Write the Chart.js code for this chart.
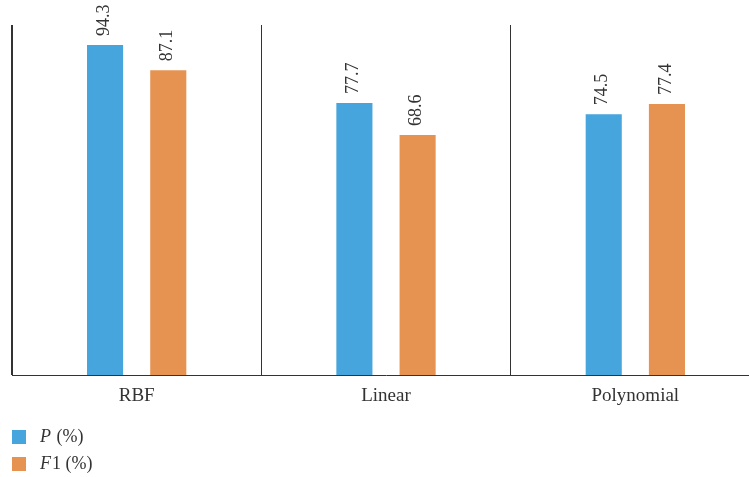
<!DOCTYPE html>
<html>
<head>
<meta charset="utf-8">
<script src="https://cdn.jsdelivr.net/npm/chart.js@4"></script>
<style>
  html, body { margin: 0; padding: 0; background: #fff; overflow: hidden; }
  #wrap { position: relative; width: 760px; height: 477px; }
</style>
</head>
<body>
<div id="wrap"><canvas id="myChart"></canvas></div>
<script>
const categories = ['RBF', 'Linear', 'Polynomial'];
const seriesNames = ['P (%)', 'F1 (%)'];
const pValues = [94.3, 77.7, 74.5];
const f1Values = [87.1, 68.6, 77.4];
const seriesColors = ['#45a5dc', '#e69352'];

const serif = '"Liberation Serif", "Times New Roman", serif';
const ink = '#333333';

// value labels, rotated, above each bar
const valueLabels = {
  id: 'valueLabels',
  afterDatasetsDraw(chart) {
    const ctx = chart.ctx;
    ctx.save();
    ctx.fillStyle = ink;
    ctx.font = '18px ' + serif;
    ctx.textAlign = 'left';
    ctx.textBaseline = 'middle';
    chart.data.datasets.forEach((ds, i) => {
      chart.getDatasetMeta(i).data.forEach((bar, j) => {
        ctx.save();
        ctx.translate(bar.x - 1, bar.y - 9);
        ctx.rotate(-Math.PI / 2);
        ctx.fillText(ds.data[j].toFixed(1), 0, 0);
        ctx.restore();
      });
    });
    ctx.restore();
  }
};

// legend below the axis, first letter of each name in italics
const stackedLegend = {
  id: 'stackedLegend',
  afterDraw(chart) {
    const ctx = chart.ctx;
    ctx.save();
    ctx.textBaseline = 'middle';
    chart.data.datasets.forEach((ds, i) => {
      const y = 437 + i * 27;
      ctx.fillStyle = ds.backgroundColor;
      ctx.fillRect(12, y - 7, 14, 14);
      ctx.fillStyle = ink;
      const name = ds.label;
      ctx.font = 'italic 18px ' + serif;
      ctx.fillText(name[0], 40, y);
      const w = ctx.measureText(name[0]).width;
      ctx.font = '18px ' + serif;
      ctx.fillText(name.slice(1), 40 + w + 1, y);
    });
    ctx.restore();
  }
};

const ctx = document.getElementById('myChart');
// eslint-disable-next-line no-unused-vars
const myChart = new Chart(ctx, {
  type: 'bar',
  data: {
    labels: categories,
    datasets: [
      { label: seriesNames[0], data: pValues, backgroundColor: seriesColors[0] },
      { label: seriesNames[1], data: f1Values, backgroundColor: seriesColors[1] }
    ]
  },
  options: {
    responsive: true,
    maintainAspectRatio: false,
    animation: false,
    categoryPercentage: 0.507,
    barPercentage: 0.571,
    layout: { padding: { top: 25, left: 0, right: 0, bottom: 0 } },
    scales: {
      x: {
        grid: { display: true, color: ink, lineWidth: 1, drawTicks: false },
        border: { display: true, color: ink, width: 1 },
        ticks: { color: ink, font: { family: serif, size: 19 }, padding: 10 },
        afterFit(scale) { scale.height = 102; }
      },
      y: {
        min: 0,
        max: 100,
        grid: { display: false },
        border: { display: true, color: ink, width: 1 },
        ticks: { display: false },
        afterFit(scale) { scale.width = 12; }
      }
    },
    plugins: {
      legend: { display: false },
      tooltip: { enabled: false }
    }
  },
  plugins: [valueLabels, stackedLegend]
});
</script>
</body>
</html>
